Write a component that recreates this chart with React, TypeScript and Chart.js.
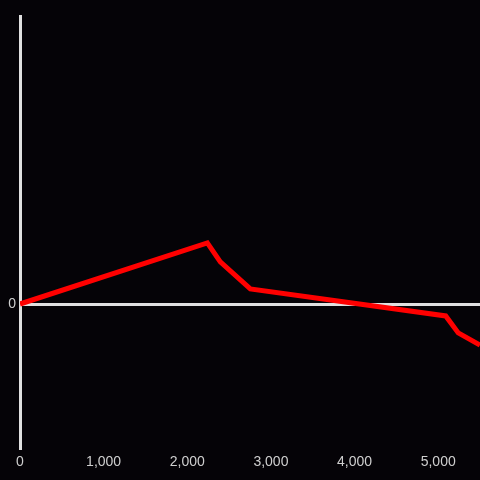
import React, { useEffect, useRef } from "react";
import { Chart, registerables } from "chart.js";

Chart.register(...registerables);

const xValues = [0, 2240, 2395, 2754, 5090, 5240, 5500];
const yValues = [0, 42.4, 29.2, 10.5, -8.3, -20.1, -28.5];
const xTickValues = [0, 1000, 2000, 3000, 4000, 5000];
const xMax = 5500;
const yMin = -100;
const yMax = 200;

export default function App() {
  const ref = useRef<HTMLCanvasElement | null>(null);
  useEffect(() => {
    if (!ref.current) return;
    const chart = new Chart(ref.current, {
      type: "line",
      data: {
        datasets: [
          {
            data: xValues.map((x, i) => ({ x, y: yValues[i] })),
            borderColor: "#ff0000",
            borderWidth: 5,
            pointRadius: 0,
            tension: 0,
            fill: false,
          },
        ],
      },
      options: {
        animation: false,
        responsive: false,
        maintainAspectRatio: false,
        layout: { padding: { top: 16, right: 0, left: 0, bottom: 0 } },
        plugins: { legend: { display: false }, tooltip: { enabled: false } },
        scales: {
          x: {
            type: "linear",
            min: 0,
            max: xMax,
            afterBuildTicks: (s: any) => {
              s.ticks = xTickValues.map((v) => ({ value: v }));
            },
            grid: { display: false, drawTicks: false },
            border: { display: false },
            ticks: {
              color: "#cfcfcf",
              font: { family: "Liberation Sans, Arial", size: 14 },
              padding: 6,
              maxRotation: 0,
              autoSkip: false,
              callback: (v: any) => Number(v).toLocaleString("en-US"),
            },
            afterFit: (s: any) => {
              s.height = 32;
              s.paddingLeft = 0;
              s.paddingRight = 0;
            },
          },
          y: {
            type: "linear",
            min: yMin,
            max: yMax,
            afterBuildTicks: (s: any) => {
              s.ticks = [{ value: 0 }];
            },
            grid: {
              drawTicks: false,
              color: "#e0e0e0",
              lineWidth: 3,
            },
            border: { display: true, color: "#e0e0e0", width: 3 },
            ticks: {
              color: "#cfcfcf",
              font: { family: "Liberation Sans, Arial", size: 14 },
              padding: 4,
              callback: (v: any) => String(v),
            },
            afterFit: (s: any) => {
              s.width = 20;
              s.paddingTop = 0;
              s.paddingBottom = 0;
            },
          },
        },
      },
    });
    return () => chart.destroy();
  }, []);
  return (
    <div style={{ position: "fixed", left: 0, top: 0, width: 480, height: 480, background: "#050307" }}>
      <canvas ref={ref} width={480} height={480} style={{ display: "block" }} />
    </div>
  );
}
